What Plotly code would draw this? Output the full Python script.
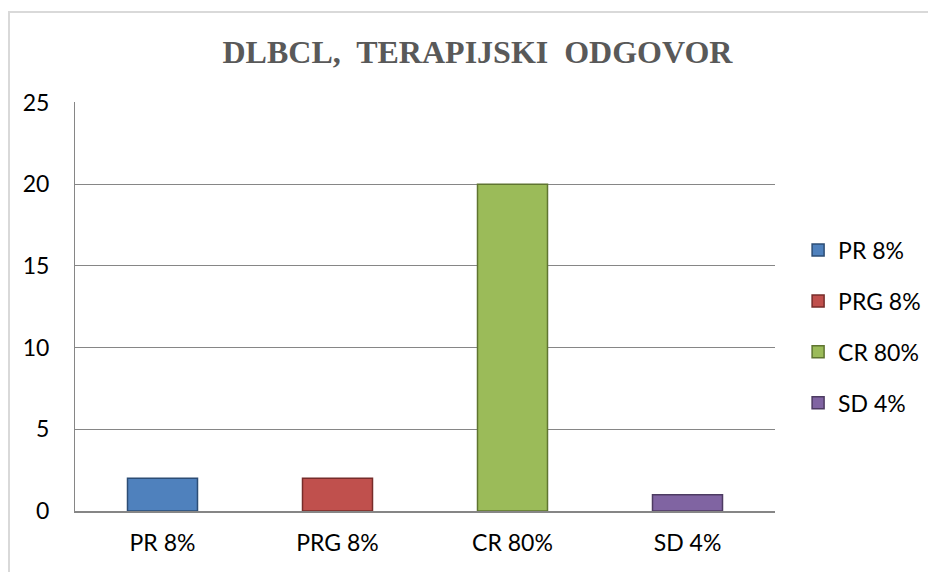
import plotly.graph_objects as go

categories = ["PR 8%", "PRG 8%", "CR 80%", "SD 4%"]
values = [2, 2, 20, 1]
colors = ["#4F81BD", "#C0504D", "#9BBB59", "#8064A2"]
edge_colors = ["#2C4D75", "#772C2A", "#5F7530", "#4D3B62"]
y_ticks = [0, 5, 10, 15, 20, 25]
title_text = "DLBCL,  TERAPIJSKI  ODGOVOR"

fig = go.Figure()
for i, (cat, val) in enumerate(zip(categories, values)):
    fig.add_trace(go.Bar(
        x=[cat], y=[val], name=cat,
        width=0.4,
        marker=dict(color=colors[i], line=dict(color=edge_colors[i], width=1.5)),
        legendgroup=cat,
    ))

# page body has an 8px margin; figure coordinates below compensate for it
fig.update_layout(
    width=936, height=572,
    paper_bgcolor="white", plot_bgcolor="white",
    margin=dict(l=67, r=169, t=94, b=69),
    barmode="overlay",
    font=dict(family="Lato, Liberation Sans, sans-serif", size=23, color="#000000"),
    title=dict(text=title_text, x=0.5016, xanchor="center", y=0.923, yanchor="middle",
               font=dict(family="Liberation Serif", size=32, color="#595959", weight="bold")),
    showlegend=True,
    legend=dict(x=1.033, xanchor="left", y=0.451, yanchor="middle",
                font=dict(size=23), tracegroupgap=18, itemwidth=30,
                bgcolor="rgba(0,0,0,0)"),
    xaxis=dict(categoryorder="array", categoryarray=categories, showgrid=False,
               showline=True, linecolor="#868686", linewidth=2, ticks="",
               ticklabelstandoff=10, tickfont=dict(size=23)),
    yaxis=dict(range=[0, 25.03], tickvals=y_ticks, showgrid=True, gridcolor="#868686",
               gridwidth=1, zeroline=False, showline=True, linecolor="#868686",
               linewidth=1, ticks="", ticklabelstandoff=20, tickfont=dict(size=23)),
    shapes=[dict(type="rect", xref="paper", yref="paper",
                 x0=-0.0943, x1=1.4, y0=-0.3, y1=1.22,
                 line=dict(color="#D9D9D9", width=2), fillcolor="rgba(0,0,0,0)",
                 layer="below")],
)

fig.write_html("out.html")
